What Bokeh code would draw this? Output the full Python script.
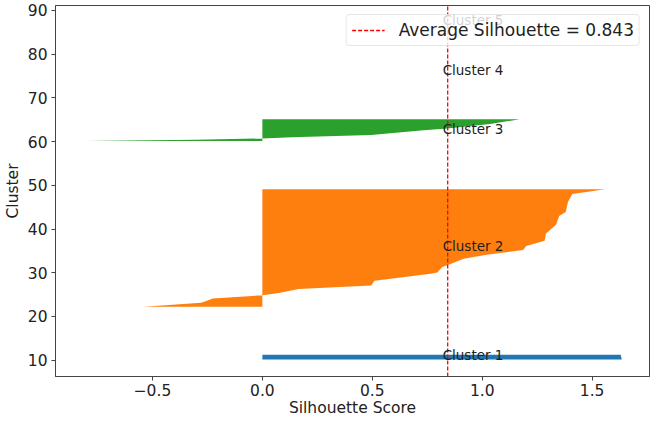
from bokeh.plotting import figure
from bokeh.models import FixedTicker, Range1d, ColumnDataSource, Legend, LegendItem
from bokeh.core.properties import value
from bokeh.embed import file_html
from bokeh.resources import INLINE

# ---- data ----
avg_silhouette = 0.843

cluster1_y = [10.15, 11.25]
cluster1_s = [1.635, 1.63]

cluster2_y = [22.2, 23.15, 24.1, 24.85, 25.4, 26.3, 27.1, 28.2, 29.8, 30.05, 31.3,
              31.7, 33.2, 34.1, 35.2, 36.1, 37.3, 39.0, 41.0, 43.0, 43.9, 46.2, 48.0, 49.1]
cluster2_s = [-0.54, -0.278, -0.225, 0.0, 0.075, 0.165, 0.495, 0.51, 0.766, 0.796, 0.818,
              0.841, 0.916, 1.02, 1.186, 1.20, 1.284, 1.29, 1.336, 1.35, 1.38, 1.39, 1.41, 1.56]

cluster3_y = [60.1, 60.4, 60.7, 61.0, 61.5, 62.5, 63.0, 64.0, 65.1]
cluster3_s = [-0.81, -0.3, 0.0, 0.135, 0.495, 0.72, 0.84, 1.036, 1.17]

cluster_names = ["Cluster 1", "Cluster 2", "Cluster 3", "Cluster 4", "Cluster 5"]
label_y = [11.3, 36.1, 62.9, 76.4, 87.8]
label_x = 0.82

x_ticks = [-0.5, 0.0, 0.5, 1.0, 1.5]
x_tick_labels = ["\u22120.5", "0.0", "0.5", "1.0", "1.5"]
y_ticks = [10, 20, 30, 40, 50, 60, 70, 80, 90]

colors = ["#1f77b4", "#ff7f0e", "#2ca02c"]

FONT = "DejaVu Sans"
TXT = "#222222"
SPINE = "#444444"

p = figure(width=650, height=419, output_backend="svg", toolbar_location=None,
           x_range=Range1d(-0.941, 1.761), y_range=Range1d(6.28, 91.11),
           min_border_left=53, min_border_right=1, min_border_top=5, min_border_bottom=40)

p.grid.visible = False
p.background_fill_color = "white"
p.outline_line_color = SPINE
p.outline_line_width = 1

for ys, ss, c in [(cluster1_y, cluster1_s, colors[0]),
                  (cluster2_y, cluster2_s, colors[1]),
                  (cluster3_y, cluster3_s, colors[2])]:
    p.harea(y=ys, x1=[0.0] * len(ys), x2=ss, fill_color=c, fill_alpha=1.0)

avg_line = p.line(x=[avg_silhouette, avg_silhouette],
                  y=[p.y_range.start, p.y_range.end],
                  line_color="red", line_dash="4 2", line_width=1.3)

src = ColumnDataSource(dict(x=[label_x] * len(cluster_names), y=label_y, t=cluster_names))
p.text(x="x", y="y", text="t", source=src, text_font=value(FONT),
       text_font_size="13.5px", text_color=TXT, text_align="left",
       text_baseline="alphabetic")

legend = Legend(items=[LegendItem(label="Average Silhouette = %.3f" % avg_silhouette,
                                  renderers=[avg_line])],
                location="top_right", margin=9, padding=5, spacing=0,
                glyph_width=33, glyph_height=18, label_standoff=14,
                label_text_font=FONT, label_text_font_size="17px",
                label_text_color=TXT, border_line_color="#d0d0d0",
                border_line_width=1, background_fill_alpha=0.8,
                border_radius=4)
p.add_layout(legend)

for ax in (p.xaxis[0], p.yaxis[0]):
    ax.axis_line_color = SPINE
    ax.major_tick_line_color = SPINE
    ax.major_tick_in = 0
    ax.major_tick_out = 4
    ax.minor_tick_line_color = None
    ax.major_label_text_font = FONT
    ax.major_label_text_font_size = "15.5px"
    ax.major_label_text_color = TXT
    ax.axis_label_text_font = FONT
    ax.axis_label_text_font_size = "15.5px"
    ax.axis_label_text_font_style = "normal"
    ax.axis_label_text_color = TXT

p.xaxis.ticker = FixedTicker(ticks=x_ticks)
p.xaxis.major_label_overrides = {t: l for t, l in zip(x_ticks, x_tick_labels)}
p.xaxis.axis_label = "Silhouette Score"
p.xaxis.major_label_standoff = 3
p.xaxis.axis_label_standoff = 0
p.yaxis.ticker = FixedTicker(ticks=y_ticks)
p.yaxis.major_label_standoff = 4
p.yaxis.axis_label = "Cluster"
p.yaxis.axis_label_standoff = 3

open("out.html", "w").write(file_html(p, INLINE))
